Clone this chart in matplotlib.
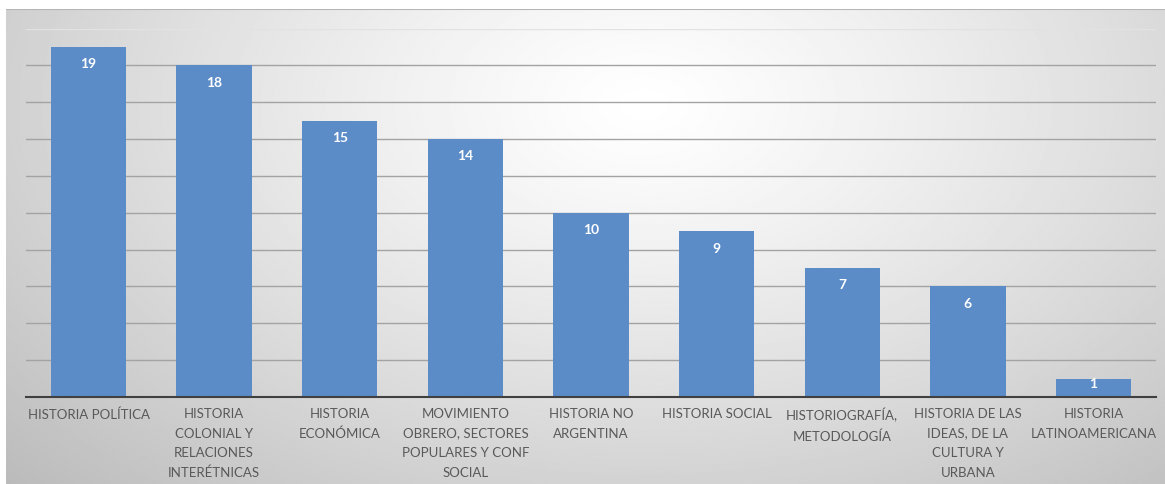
import numpy as np
import matplotlib
matplotlib.use("Agg")
import matplotlib.pyplot as plt

categories = [
    "HISTORIA POLÍTICA",
    "HISTORIA\nCOLONIAL Y\nRELACIONES\nINTERÉTNICAS",
    "HISTORIA\nECONÓMICA",
    "MOVIMIENTO\nOBRERO, SECTORES\nPOPULARES Y CONF\nSOCIAL",
    "HISTORIA NO\nARGENTINA",
    "HISTORIA SOCIAL",
    "HISTORIOGRAFÍA,\nMETODOLOGÍA",
    "HISTORIA DE LAS\nIDEAS, DE LA\nCULTURA Y\nURBANA",
    "HISTORIA\nLATINOAMERICANA",
]
values = [19, 18, 15, 14, 10, 9, 7, 6, 1]

W, H = 1165, 484
fig = plt.figure(figsize=(W / 100, H / 100), dpi=100)
fig.patch.set_facecolor("white")

# radial gray background of the chart area
bg = fig.add_axes([6 / W, 0, 1 - 6 / W, 1 - 9 / H])
yy, xx = np.mgrid[0:1:300j, 0:1:700j]
r = np.sqrt(((xx - 0.55) / 0.7) ** 2 + ((yy - 0.2) / 1.05) ** 2)
shade = 1.0 - 0.24 * np.clip(r, 0, 1.2) ** 1.2
bg.imshow(shade, cmap="gray", vmin=0, vmax=1, aspect="auto",
          extent=[0, 1, 1, 0], interpolation="bilinear")
bg.axhline(0.0, color="#b5b5b5", linewidth=1.5)
bg.set_xlim(0, 1)
bg.set_ylim(1, 0)
bg.axis("off")

ax = fig.add_axes([25.7 / W, (H - 397) / H, (1156.3 - 25.7) / W, (397 - 28.6) / H])
ax.patch.set_alpha(0)
x = np.arange(len(categories))
bars = ax.bar(x, values, width=0.6, color="#5b8cc8", zorder=3)
ax.set_xlim(-0.5, len(categories) - 0.5)
ax.set_ylim(0, 20)
ax.set_yticks([])
for g in range(2, 20, 2):
    ax.axhline(g, color="#a3a3a3", linewidth=1, zorder=0)
ax.axhline(20, color="#e2e2e2", linewidth=1, zorder=0)
for s in ["top", "right", "left"]:
    ax.spines[s].set_visible(False)
ax.spines["bottom"].set_color("#404040")
ax.spines["bottom"].set_linewidth(1.5)
ax.spines["bottom"].set_zorder(4)
ax.set_xticks(x)
ax.set_xticklabels(categories, fontsize=9.5, color="#595959", family="Lato",
                   linespacing=1.75, va="top")
ax.tick_params(axis="x", length=0, pad=8)

for xi, v in zip(x, values):
    off = -12.5 if v > 2 else -4
    ax.annotate(str(v), (xi, v), xytext=(0, off), textcoords="offset points",
                ha="center", va="center", color="white", fontweight="bold",
                fontsize=10, family="Lato", zorder=5)

fig.savefig("out.png", dpi=100)
